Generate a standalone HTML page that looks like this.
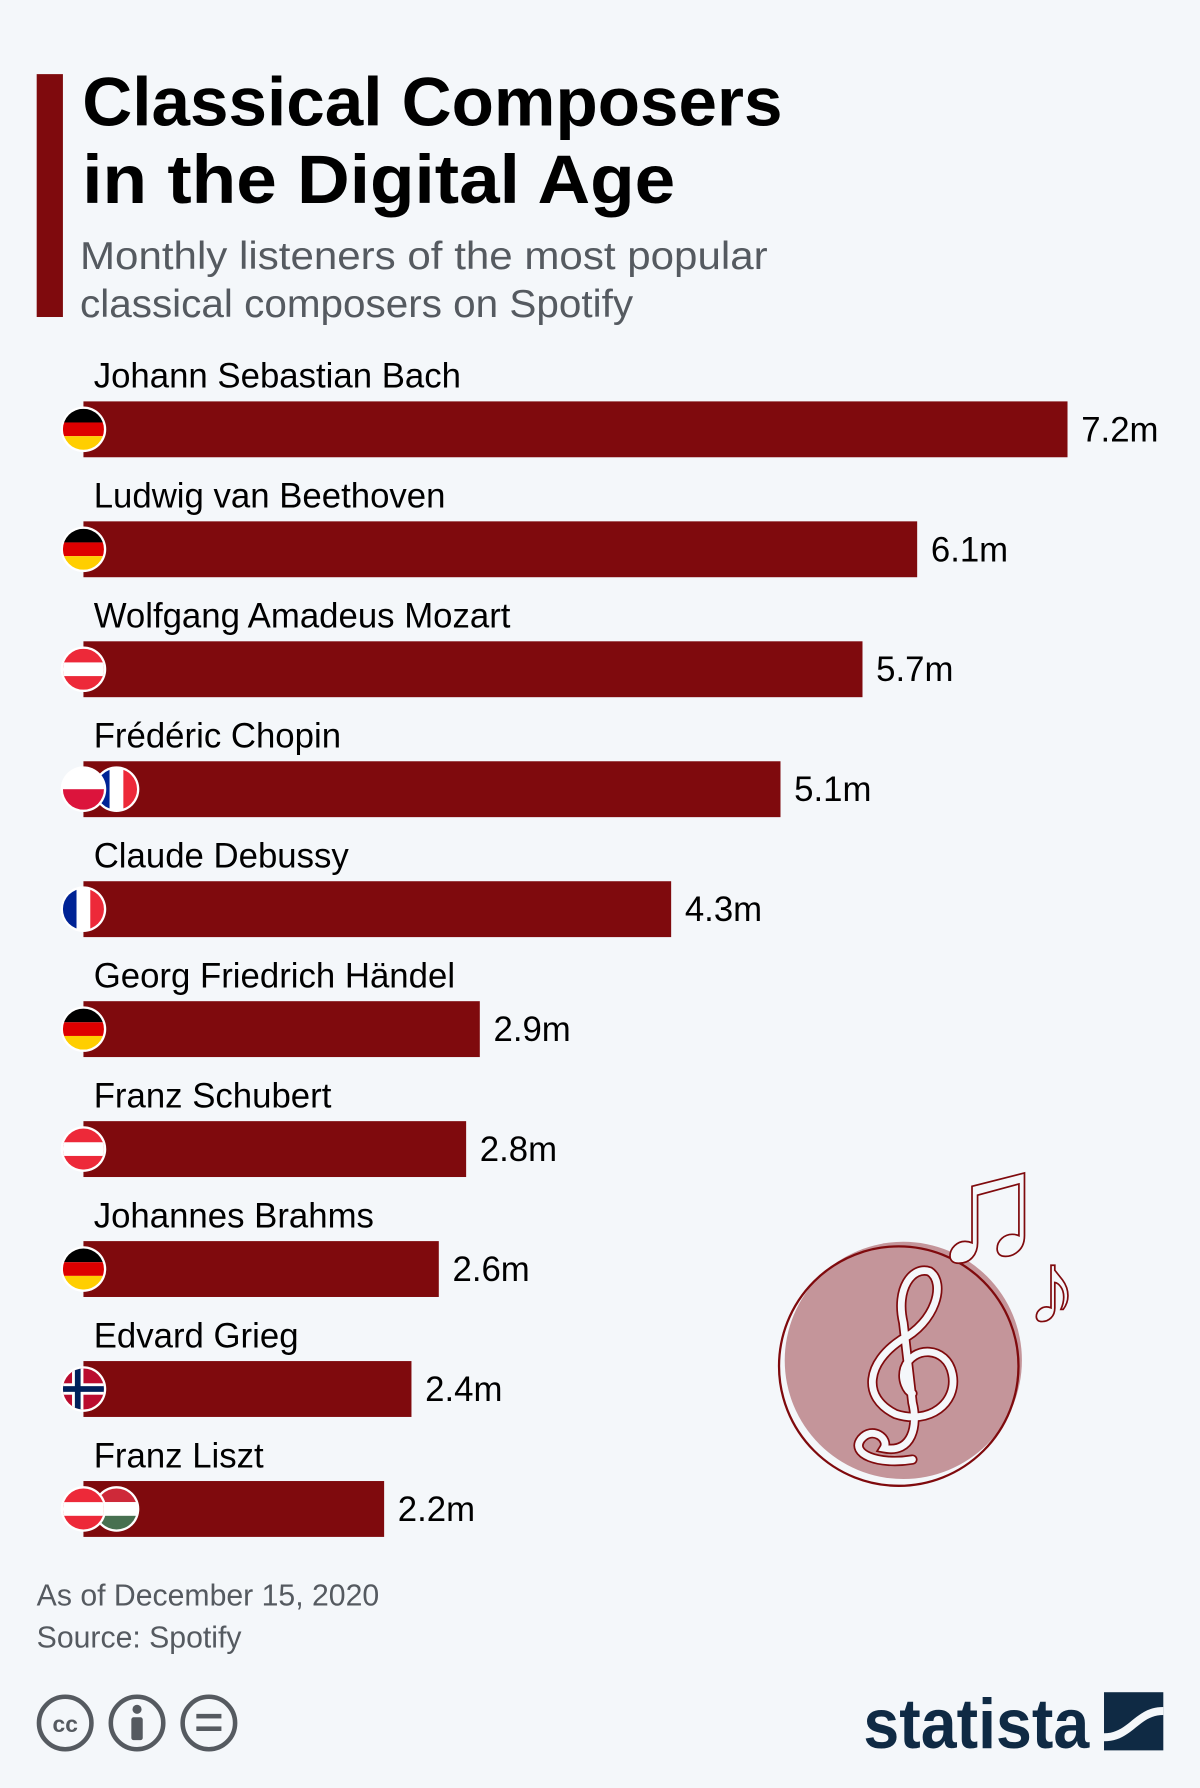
<!DOCTYPE html>
<html><head><meta charset="utf-8"><style>
html,body{margin:0;padding:0;background:#f4f7fa;}
svg{display:block;font-family:"Liberation Sans","DejaVu Sans",sans-serif;}
</style></head><body>
<svg id="chart" width="1200" height="1788" viewBox="0 0 1052 1568">
<defs>
<clipPath id="fc"><circle cx="0" cy="0" r="18"/></clipPath>
</defs>
<rect width="1052" height="1568" fill="#f4f7fa"/>
<rect x="32" y="65" width="23" height="213" fill="#7f0a0d"/>
<text x="72" y="110" font-size="60" font-weight="bold" fill="#000" textLength="614" lengthAdjust="spacingAndGlyphs">Classical Composers</text>
<text x="72" y="178" font-size="60" font-weight="bold" fill="#000" textLength="520" lengthAdjust="spacingAndGlyphs">in the Digital Age</text>
<text x="70" y="236" font-size="34" fill="#555a60" textLength="603" lengthAdjust="spacingAndGlyphs">Monthly listeners of the most popular</text>
<text x="70" y="278" font-size="34" fill="#555a60" textLength="485" lengthAdjust="spacingAndGlyphs">classical composers on Spotify</text>
<g id="bars"></g>

<g>
<circle cx="792" cy="1193" r="104" fill="#c4959a"/>
<circle cx="788" cy="1198" r="105" fill="none" stroke="#7f0a0d" stroke-width="2"/>
<path d="M800,1280 C770,1285 745,1275 755,1262 C765,1250 780,1262 775,1270 C800,1275 805,1250 800,1230 L792,1160 C785,1130 800,1110 815,1115 C830,1125 820,1160 790,1175 C760,1195 755,1225 785,1240 C815,1250 840,1230 835,1205 C830,1180 800,1180 793,1200 C790,1210 795,1220 800,1222" fill="none" stroke="#7f0a0d" stroke-width="9" stroke-linecap="round"/>
<path d="M800,1280 C770,1285 745,1275 755,1262 C765,1250 780,1262 775,1270 C800,1275 805,1250 800,1230 L792,1160 C785,1130 800,1110 815,1115 C830,1125 820,1160 790,1175 C760,1195 755,1225 785,1240 C815,1250 840,1230 835,1205 C830,1180 800,1180 793,1200 C790,1210 795,1220 800,1222" fill="none" stroke="#f4f7fa" stroke-width="6" stroke-linecap="round"/>
<text x="815" y="1105" font-size="135" fill="#f4f7fa" stroke="#7f0a0d" stroke-width="1.5">♫</text>
<text x="900" y="1160" font-size="90" fill="#f4f7fa" stroke="#7f0a0d" stroke-width="1.5">♪</text>
</g>

<text x="32" y="1408" font-size="26.5" fill="#555a60">As of December 15, 2020</text>
<text x="32" y="1445" font-size="26.5" fill="#555a60">Source: Spotify</text>
<g fill="none" stroke="#555a60" stroke-width="4">
<circle cx="57" cy="1511" r="23"/>
<circle cx="120" cy="1511" r="23"/>
<circle cx="183" cy="1511" r="23"/>
</g>
<text x="57" y="1519" font-size="20" font-weight="bold" fill="#555a60" text-anchor="middle">cc</text>
<circle cx="120" cy="1499" r="4" fill="#555a60"/>
<rect x="115" y="1506" width="10" height="20" rx="2" fill="#555a60"/>
<rect x="172" y="1503" width="22" height="4" fill="#555a60"/>
<rect x="172" y="1514" width="22" height="4" fill="#555a60"/>
<text x="757" y="1533" font-size="62" font-weight="bold" fill="#0f2a44" textLength="198" lengthAdjust="spacingAndGlyphs">statista</text>
<g>
<rect x="968" y="1484" width="52" height="51" fill="#0f2a44"/>
<path d="M968,1520 C990,1520 995,1497 1020,1497 L1020,1504 C998,1504 993,1527 968,1527 Z" fill="#f4f7fa"/>
</g>
</svg>
<script>
const names = ["Johann Sebastian Bach","Ludwig van Beethoven","Wolfgang Amadeus Mozart","Frédéric Chopin","Claude Debussy","Georg Friedrich Händel","Franz Schubert","Johannes Brahms","Edvard Grieg","Franz Liszt"];
const values = [7.2,6.1,5.7,5.1,4.3,2.9,2.8,2.6,2.4,2.2];
const valueLabels = ["7.2m","6.1m","5.7m","5.1m","4.3m","2.9m","2.8m","2.6m","2.4m","2.2m"];
const flags = [["de"],["de"],["at"],["pl","fr"],["fr"],["de"],["at"],["de"],["no"],["at","hu"]];

const NS = "http://www.w3.org/2000/svg";
const x0 = 73, pxPerM = 119.86;
function xScale(v){ return x0 + v * pxPerM; }
function yTop(i){ return 352 + i * 105.2; }
const g = document.getElementById('bars');
function mk(tag, attrs, parent){ const e = document.createElementNS(NS, tag); for (const k in attrs) e.setAttribute(k, attrs[k]); parent.appendChild(e); return e; }
function flag(code, cx, cy, parent){
  const fg = mk('g', {transform:`translate(${cx},${cy})`}, parent);
  
  
  mk('circle', {cx:0, cy:0, r:20, fill:'#fff'}, fg);
  const c = mk('g', {'clip-path':'url(#fc)'}, fg);
  const r = (x,y,w,h,f)=>mk('rect',{x,y,width:w,height:h,fill:f},c);
  if (code==='de'){ r(-18,-18,36,12,'#000'); r(-18,-6,36,12,'#dd0000'); r(-18,6,36,12,'#ffce00'); }
  else if (code==='at'){ r(-18,-18,36,36,'#ed2939'); r(-18,-6,36,12,'#fff'); }
  else if (code==='pl'){ r(-18,-18,36,18,'#fff'); r(-18,0,36,18,'#dc143c'); }
  else if (code==='fr'){ r(-18,-18,12,36,'#002395'); r(-6,-18,12,36,'#fff'); r(6,-18,12,36,'#ed2939'); }
  else if (code==='hu'){ r(-18,-18,36,12,'#ce2939'); r(-18,-6,36,12,'#fff'); r(-18,6,36,12,'#477050'); }
  else if (code==='no'){ r(-18,-18,36,36,'#ba0c2f'); r(-18,-5,36,10,'#fff'); r(-10,-18,10,36,'#fff'); r(-18,-2.5,36,5,'#00205b'); r(-7.5,-18,5,36,'#00205b'); }
}
names.forEach((n,i)=>{
  const y = yTop(i);
  const t = mk('text', {x:82, y:y-12, 'font-size':30.5, fill:'#000'}, g);
  t.textContent = n;
  
  
  const b = mk('rect', {x:x0, y:y, width:xScale(values[i])-x0, height:49, fill:'#7f0a0d'}, g);
  
  
  const v = mk('text', {x:xScale(values[i])+12, y:y+35, 'font-size':30.5, fill:'#000'}, g);
  v.textContent = valueLabels[i];
  
  
  const fl = flags[i];
  for (let k = fl.length-1; k >= 0; k--) flag(fl[k], 73 + k*29, y+24.5, g);
});
</script>
</body></html>
